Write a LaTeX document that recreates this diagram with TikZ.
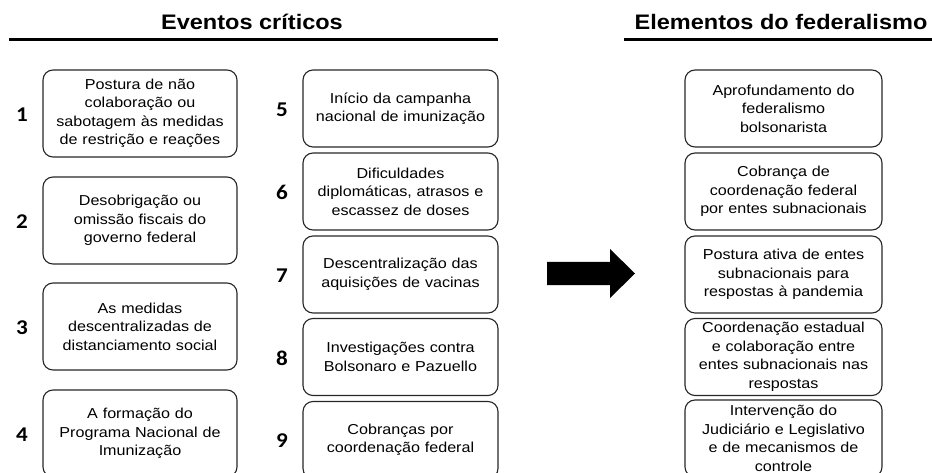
\documentclass[tikz,border=0pt]{standalone}
\usepackage{fontspec}
\setmainfont{Liberation Sans}[FakeStretch=1.12]
\newfontfamily\numfont{Carlito}[FakeStretch=1.1]

\begin{document}
\begin{tikzpicture}[x=1pt, y=-1pt]
    \tikzset{%
        titulo/.style={anchor=base, font=\bfseries\fontsize{21pt}{24pt}\selectfont},
        regua/.style={line width=3pt},
        caixa/.style={draw=black!85, line width=1.1pt, rounded corners=10pt, align=center,
                inner sep=0pt, font=\fontsize{14.4pt}{18.5pt}\selectfont},
        evento/.style={caixa, minimum width=194pt, minimum height=87pt, text width=194pt},
        eventob/.style={caixa, minimum width=195pt, minimum height=77pt, text width=195pt},
        elemento/.style={caixa, minimum width=197pt, minimum height=77pt, text width=197pt},
        numero/.style={font=\numfont\bfseries\fontsize{21pt}{21pt}\selectfont}
    }

    \useasboundingbox (0, 0) rectangle (932, 473);

    \node [titulo] (tituloeventos) at (252, 30) {Eventos críticos};
    \node [titulo] (titulofederalismo) at (781, 30) {Elementos do federalismo};
    \draw [regua] (9, 40) -- (498, 40);
    \draw [regua] (624, 40) -- (932, 40);

    \foreach \i/\y/\txt in {%
            1/113.5/{Postura de não\\colaboração ou\\sabotagem às medidas\\de restrição e reações},
            2/220.5/{Desobrigação ou\\omissão fiscais do\\governo federal},
            3/326.5/{As medidas\\descentralizadas de\\distanciamento social},
            4/433.5/{A formação do\\Programa Nacional de\\Imunização}} {%
            \node [evento] (evento\i) at (140, \y) {\txt};
            \node [numero] (num\i) at (22, \y+1) {\i};
        };

    \foreach \i/\y/\txt in {%
            5/108.5/{Início da campanha\\nacional de imunização},
            6/191.5/{Dificuldades\\diplomáticas, atrasos e\\escassez de doses},
            7/274.5/{Descentralização das\\aquisições de vacinas},
            8/357/{Investigações contra\\Bolsonaro e Pazuello},
            9/440/{Cobranças por\\coordenação federal}} {%
            \node [eventob] (evento\i) at (400.5, \y) {\txt};
            \node [numero] (num\i) at (282, \y+1) {\i};
        };

    \foreach \i/\y/\txt in {%
            a/108.5/{Aprofundamento do\\federalismo\\bolsonarista},
            b/191.5/{Cobrança de\\coordenação federal\\por entes subnacionais},
            c/274.5/{Postura ativa de entes\\subnacionais para\\respostas à pandemia},
            d/357/{Coordenação estadual\\e colaboração entre\\entes subnacionais nas\\respostas},
            e/438.5/{Intervenção do\\Judiciário e Legislativo\\e de mecanismos de\\controle}} {%
            \node [elemento] (elemento\i) at (783.5, \y) {\txt};
        };

    \fill (547, 262) -- (610, 262) -- (610, 249) -- (635, 273.5) -- (610, 298) -- (610, 285)
        -- (547, 285) -- cycle;
\end{tikzpicture}
\end{document}
